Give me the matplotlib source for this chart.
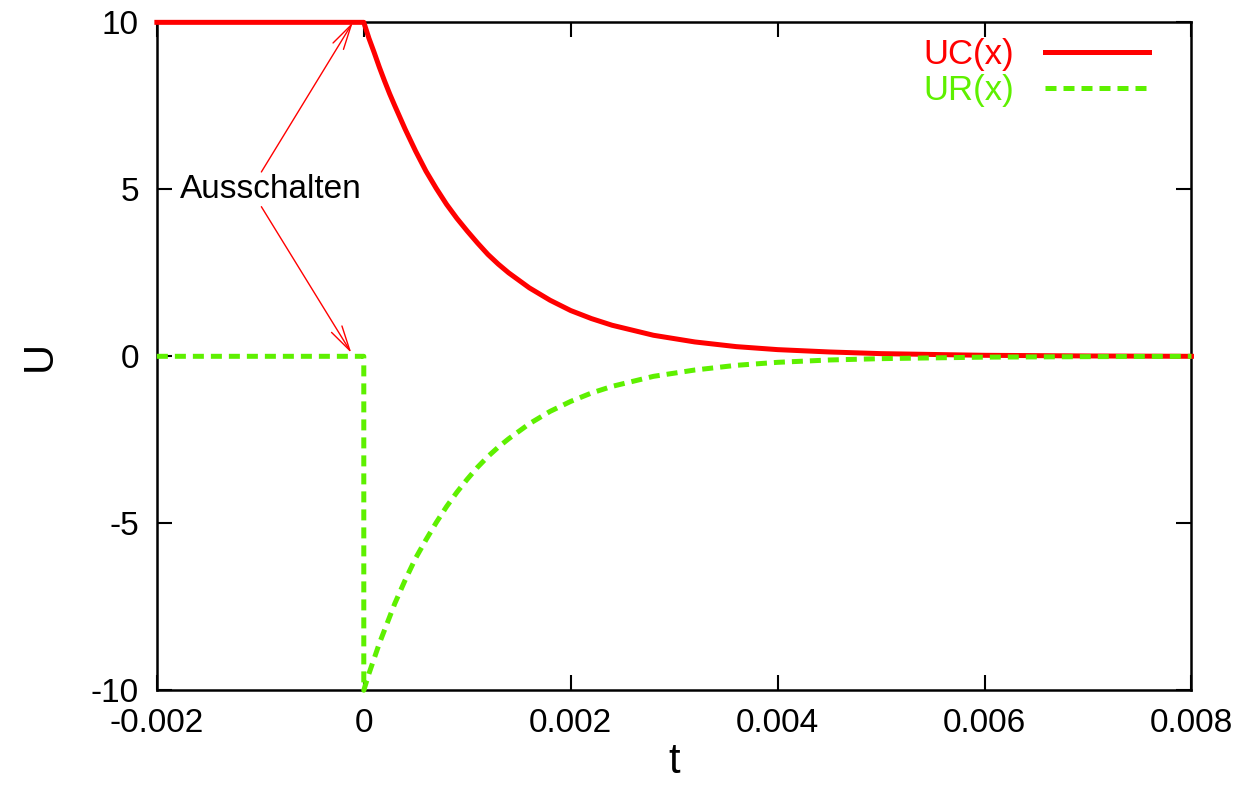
import numpy as np
import matplotlib.pyplot as plt

# time values (s) and voltages
t_before = [-0.002, 0.0]
uc_before = [10, 10]
ur_before = [0, 0]

t_after = [0.0, 0.00005, 0.0001, 0.00015, 0.0002, 0.00025, 0.0003, 0.0004,
           0.0005, 0.0006, 0.0007, 0.0008, 0.0009, 0.001, 0.0011, 0.0012,
           0.0013, 0.0014, 0.0016, 0.0018, 0.002, 0.0022, 0.0024, 0.0028,
           0.0032, 0.0036, 0.004, 0.0045, 0.005, 0.006, 0.007, 0.008]
uc_after = [10, 9.52, 9.1, 8.66, 8.25, 7.86, 7.5, 6.8, 6.15, 5.55, 5.03, 4.55,
            4.13, 3.75, 3.39, 3.05, 2.76, 2.5, 2.05, 1.68, 1.37, 1.13, 0.93,
            0.63, 0.43, 0.29, 0.2, 0.13, 0.08, 0.03, 0.01, 0.0]
ur_after = [-10, -9.5, -9.05, -8.6, -8.2, -7.8, -7.4, -6.7, -6.05, -5.5, -4.98,
            -4.5, -4.07, -3.68, -3.32, -3.0, -2.72, -2.47, -2.02, -1.65, -1.35,
            -1.1, -0.9, -0.6, -0.41, -0.27, -0.18, -0.11, -0.07, -0.025, -0.01,
            0.0]

t_uc = t_before + t_after
uc = uc_before + uc_after
t_ur = t_before + t_after
ur = ur_before + ur_after

red = '#ff0000'
green = '#5ef000'

plt.rcParams['font.family'] = ['Liberation Sans', 'DejaVu Sans']
plt.rcParams['axes.unicode_minus'] = False

fig = plt.figure(figsize=(12.45, 7.98), dpi=100)
ax = fig.add_axes([0.126, 0.135, 0.831, 0.837])

ax.plot(t_uc, uc, color=red, lw=3.6, label='UC(x)', clip_on=False, zorder=3)
ax.plot(t_ur, ur, color=green, lw=3.6, dashes=(2.2, 1.4), label='UR(x)',
        clip_on=False, zorder=3)

ax.set_xlim(-0.002, 0.008)
ax.set_ylim(-10, 10)
ax.set_xticks([-0.002, 0, 0.002, 0.004, 0.006, 0.008])
ax.set_xticklabels(['-0.002', '0', '0.002', '0.004', '0.006', '0.008'])
ax.set_yticks([-10, -5, 0, 5, 10])
ax.set_yticklabels(['-10', '-5', '0', '5', '10'])
ax.tick_params(direction='in', length=11, width=1.5, labelsize=24,
               top=True, right=True, pad=13)
for s in ax.spines.values():
    s.set_linewidth(1.8)

ax.set_xlabel('t', fontsize=30, labelpad=2)
ax.set_ylabel('U', fontsize=30, labelpad=22)

# annotation with two arrows
ax.text(-0.00178, 5.0, 'Ausschalten', fontsize=24, ha='left', va='center')
arrow = dict(arrowstyle='->,head_length=0.9,head_width=0.22', color=red,
             lw=1.0, mutation_scale=20, shrinkA=0, shrinkB=0)
ax.annotate('', xy=(-0.000106, 10), xytext=(-0.00099, 5.52), arrowprops=arrow)
ax.annotate('', xy=(-0.00012, 0.1), xytext=(-0.00099, 4.48), arrowprops=arrow)

leg = ax.legend(loc='upper right', bbox_to_anchor=(0.959, 0.977), frameon=False,
                markerfirst=False, fontsize=25, handlelength=3.0,
                handletextpad=0.9, labelspacing=0.1, borderpad=0,
                borderaxespad=0, labelcolor='linecolor')

fig.savefig('out.png', dpi=100)
